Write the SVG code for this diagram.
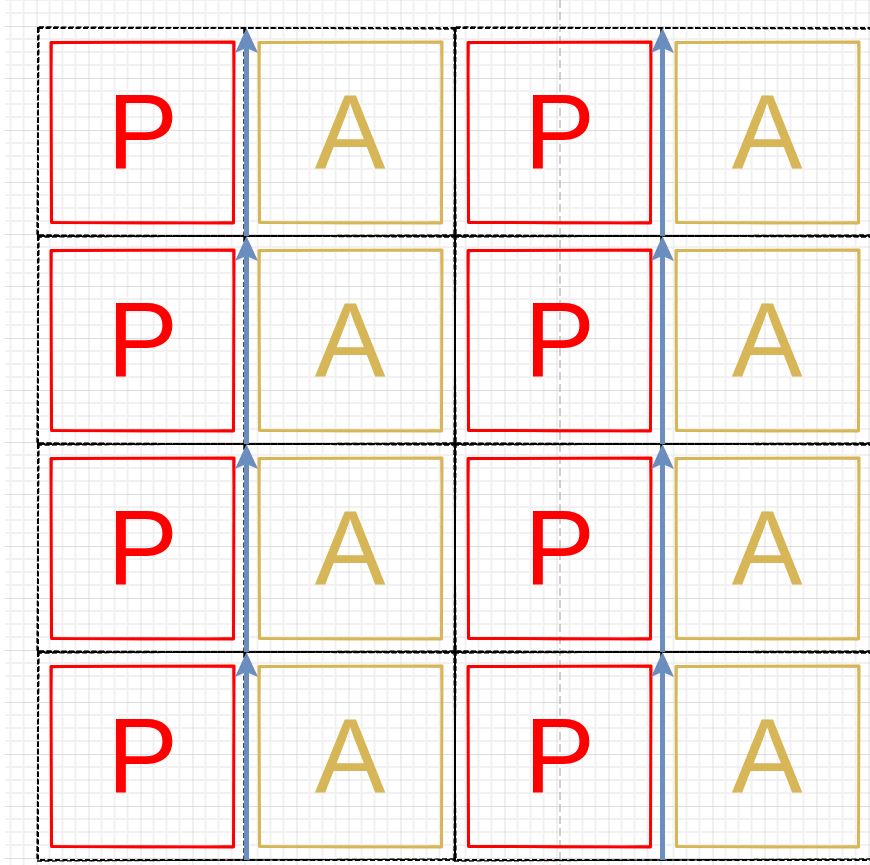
<svg xmlns="http://www.w3.org/2000/svg" xmlns:xlink="http://www.w3.org/1999/xlink" width="870" height="865" viewBox="0 0 870 865">
<style>
.bg{fill:#ffffff}
.cont{fill:none;stroke:#000000;stroke-width:2;stroke-dasharray:5 2.5}
.cont2{fill:none;stroke:#000000;stroke-width:1.4;stroke-dasharray:5 2.5}
.p{fill:none;stroke:#ff0000;stroke-width:3;stroke-linejoin:round}
.p2{fill:none;stroke:#ff0000;stroke-width:1.3}
.a{fill:none;stroke:#d6b656;stroke-width:3;stroke-linejoin:round}
.a2{fill:none;stroke:#d6b656;stroke-width:1.3}
.tp{font-family:"Liberation Sans",Arial,sans-serif;font-size:106px;fill:#ff0000;text-anchor:middle}
.ta{font-family:"Liberation Sans",Arial,sans-serif;font-size:106px;fill:#d6b656;text-anchor:middle}
.arr{fill:none;stroke:#6c8ebf;stroke-width:5}
.guide{fill:none;stroke:#c0c0c0;stroke-width:1.5;stroke-dasharray:8 4}
</style>
<defs>
<pattern id="grid" patternUnits="userSpaceOnUse" x="36.5" y="26" width="52" height="52">
<path d="M13,0V52M26,0V52M39,0V52M0,13H52M0,26H52M0,39H52" stroke="#f1f1f1" stroke-width="2" fill="none"/>
<path d="M0,0V52M0,0H52" stroke="#d2d2d2" stroke-width="1.3" fill="none"/>
</pattern>
<marker id="head" viewBox="0 0 25 23" refX="5" refY="11.5" markerWidth="25" markerHeight="23" markerUnits="userSpaceOnUse" orient="auto">
<path d="M0,0 L25,11.5 L0,23 L5,11.5 Z" fill="#6c8ebf"/>
</marker>
<path id="box" d="M0,0.5 L183,0 L182.5,181 L0.5,180.5 Z"/>
<path id="boxs" d="M1,1.5 Q91,-1.5 182,0.8 Q184.5,90 182,180 Q91,183 1.5,180 Q-1.5,90 1,1.5 Z"/>
<path id="cbox" d="M0,0 L417,0 L417,208 L0,208 Z M207,0 V208"/>
<path id="cboxs" d="M1,-1 L416,1 L418,207 L-1,209 Z M206,1 V207"/>
</defs>
<rect class="bg" x="0" y="0" width="870" height="865"/>
<rect x="5" y="0" width="865" height="865" fill="url(#grid)"/>
<line class="guide" x1="560" y1="0" x2="560" y2="865"/>

<g id="container-r1-c1"><use href="#cbox" class="cont" x="38" y="28"/><use href="#cboxs" class="cont2" x="38" y="28"/></g>
<g id="container-r1-c2"><use href="#cbox" class="cont" x="455" y="28"/><use href="#cboxs" class="cont2" x="455" y="28"/></g>
<g id="container-r2-c1"><use href="#cbox" class="cont" x="38" y="236"/><use href="#cboxs" class="cont2" x="38" y="236"/></g>
<g id="container-r2-c2"><use href="#cbox" class="cont" x="455" y="236"/><use href="#cboxs" class="cont2" x="455" y="236"/></g>
<g id="container-r3-c1"><use href="#cbox" class="cont" x="38" y="444"/><use href="#cboxs" class="cont2" x="38" y="444"/></g>
<g id="container-r3-c2"><use href="#cbox" class="cont" x="455" y="444"/><use href="#cboxs" class="cont2" x="455" y="444"/></g>
<g id="container-r4-c1"><use href="#cbox" class="cont" x="38" y="652"/><use href="#cboxs" class="cont2" x="38" y="652"/></g>
<g id="container-r4-c2"><use href="#cbox" class="cont" x="455" y="652"/><use href="#cboxs" class="cont2" x="455" y="652"/></g>

<g id="p-r1-c1"><use href="#box" class="p" x="51" y="42"/><use href="#boxs" class="p2" x="51" y="42"/><text class="tp" x="142.5" y="168">P</text></g>
<g id="a-r1-c1"><use href="#box" class="a" x="259" y="42"/><use href="#boxs" class="a2" x="259" y="42"/><text class="ta" x="350" y="168">A</text></g>
<g id="p-r1-c2"><use href="#box" class="p" x="468" y="42"/><use href="#boxs" class="p2" x="468" y="42"/><text class="tp" x="559.5" y="168">P</text></g>
<g id="a-r1-c2"><use href="#box" class="a" x="676" y="42"/><use href="#boxs" class="a2" x="676" y="42"/><text class="ta" x="767" y="168">A</text></g>

<g id="p-r2-c1"><use href="#box" class="p" x="51" y="250"/><use href="#boxs" class="p2" x="51" y="250"/><text class="tp" x="142.5" y="376">P</text></g>
<g id="a-r2-c1"><use href="#box" class="a" x="259" y="250"/><use href="#boxs" class="a2" x="259" y="250"/><text class="ta" x="350" y="376">A</text></g>
<g id="p-r2-c2"><use href="#box" class="p" x="468" y="250"/><use href="#boxs" class="p2" x="468" y="250"/><text class="tp" x="559.5" y="376">P</text></g>
<g id="a-r2-c2"><use href="#box" class="a" x="676" y="250"/><use href="#boxs" class="a2" x="676" y="250"/><text class="ta" x="767" y="376">A</text></g>

<g id="p-r3-c1"><use href="#box" class="p" x="51" y="458"/><use href="#boxs" class="p2" x="51" y="458"/><text class="tp" x="142.5" y="584">P</text></g>
<g id="a-r3-c1"><use href="#box" class="a" x="259" y="458"/><use href="#boxs" class="a2" x="259" y="458"/><text class="ta" x="350" y="584">A</text></g>
<g id="p-r3-c2"><use href="#box" class="p" x="468" y="458"/><use href="#boxs" class="p2" x="468" y="458"/><text class="tp" x="559.5" y="584">P</text></g>
<g id="a-r3-c2"><use href="#box" class="a" x="676" y="458"/><use href="#boxs" class="a2" x="676" y="458"/><text class="ta" x="767" y="584">A</text></g>

<g id="p-r4-c1"><use href="#box" class="p" x="51" y="666"/><use href="#boxs" class="p2" x="51" y="666"/><text class="tp" x="142.5" y="792">P</text></g>
<g id="a-r4-c1"><use href="#box" class="a" x="259" y="666"/><use href="#boxs" class="a2" x="259" y="666"/><text class="ta" x="350" y="792">A</text></g>
<g id="p-r4-c2"><use href="#box" class="p" x="468" y="666"/><use href="#boxs" class="p2" x="468" y="666"/><text class="tp" x="559.5" y="792">P</text></g>
<g id="a-r4-c2"><use href="#box" class="a" x="676" y="666"/><use href="#boxs" class="a2" x="676" y="666"/><text class="ta" x="767" y="792">A</text></g>

<g id="connectors">
<path class="arr" d="M246.5,236 V48" marker-end="url(#head)"/>
<path class="arr" d="M246.5,444 V256" marker-end="url(#head)"/>
<path class="arr" d="M246.5,652 V464" marker-end="url(#head)"/>
<path class="arr" d="M246.5,860 V672" marker-end="url(#head)"/>
<path class="arr" d="M662.5,236 V48" marker-end="url(#head)"/>
<path class="arr" d="M662.5,444 V256" marker-end="url(#head)"/>
<path class="arr" d="M662.5,652 V464" marker-end="url(#head)"/>
<path class="arr" d="M662.5,860 V672" marker-end="url(#head)"/>
</g>
</svg>
